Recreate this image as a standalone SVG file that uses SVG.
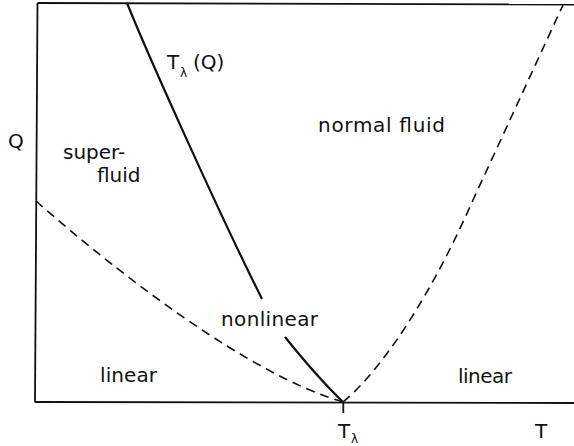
<svg xmlns="http://www.w3.org/2000/svg" width="574" height="446" viewBox="0 0 574 446">
<style>
text{font-family:"DejaVu Sans","Liberation Sans",sans-serif;font-size:20px;fill:#111}
.sub{font-size:12px}
.frame{fill:none;stroke:#111;stroke-width:1.8}
.solid{fill:none;stroke:#111;stroke-width:2.2}
.dash{fill:none;stroke:#111;stroke-width:1.6;stroke-dasharray:9 6}
</style>
<rect width="574" height="446" fill="#fff"/>
<g id="axes">
<path class="frame" d="M37.5,3 L574,4.5"/>
<path class="frame" d="M37.5,3 L35,402.5"/>
<path class="frame" d="M35,402 L574,403"/>
<path class="frame" d="M343.3,402 L343.3,413"/>
</g>
<g id="connectors">
<path id="lambda-line-upper" class="solid" d="M127,3 C150,60 220,215 262,299"/>
<path id="lambda-line-lower" class="solid" d="M285,337 Q318,378 343,402"/>
<path id="left-boundary" class="dash" d="M36,201 C120,275 250,375 343,402"/>
<path id="right-boundary" class="dash" d="M343,402 C370,380 420,320 473,200 L563,5"/>
</g>
<g id="labels">
<text x="8" y="148">Q</text>
<text x="63" y="159">super-</text>
<text x="97" y="182">fluid</text>
<g id="lambda-label"><text x="167" y="69">T</text><text class="sub" x="180" y="77">λ</text><text x="193" y="69">(Q)</text></g>
<text x="318" y="132" textLength="127" lengthAdjust="spacing">normal fluid</text>
<text x="221" y="326" textLength="97" lengthAdjust="spacing">nonlinear</text>
<text x="100" y="382" textLength="57" lengthAdjust="spacing">linear</text>
<text x="458" y="383" textLength="54" lengthAdjust="spacing">linear</text>
<g id="tlambda-label"><text x="338" y="438">T</text><text class="sub" x="351" y="443">λ</text></g>
<text x="535" y="438">T</text>
</g>
</svg>
